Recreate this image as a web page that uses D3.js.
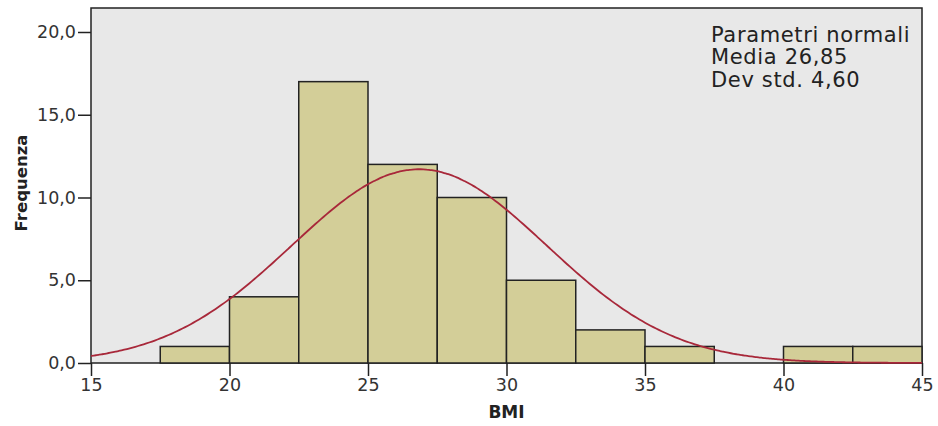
<!DOCTYPE html>
<html><head><meta charset="utf-8">
<script src="https://cdn.jsdelivr.net/npm/d3@7/dist/d3.min.js"></script>
<style>body{margin:0;background:#fff;}svg{display:block;font-family:"DejaVu Sans",sans-serif;}</style>
</head><body>
<svg id="c" width="938" height="426"></svg>
<script>
const binStarts = [17.5, 20, 22.5, 25, 27.5, 30, 32.5, 35, 37.5, 40, 42.5];
const binCounts = [1, 4, 17, 12, 10, 5, 2, 1, 0, 1, 1];
const binWidth = 2.5;
const xTicks = [15, 20, 25, 30, 35, 40, 45];
const yTicks = [0, 5, 10, 15, 20];
const mean = 26.85, sd = 4.60;
const annot = ["Parametri normali", "Media 26,85", "Dev std. 4,60"];

const svg = d3.select("#c");
const L = 91, R = 922, T = 8, B = 363;
const x = d3.scaleLinear().domain([15, 45]).range([L, R]);
const y = d3.scaleLinear().domain([0, 21.45]).range([B, T]);

svg.append("rect").attr("x", L).attr("y", T).attr("width", R - L).attr("height", B - T)
  .attr("fill", "#E8E8E8").attr("stroke", "#222").attr("stroke-width", 1.5);

const bins = binStarts.map((s, i) => ({s, c: binCounts[i]})).filter(d => d.c > 0);
svg.append("g").selectAll("rect").data(bins).join("rect")
  .attr("x", d => x(d.s)).attr("width", d => x(d.s + binWidth) - x(d.s))
  .attr("y", d => y(d.c)).attr("height", d => y(0) - y(d.c))
  .attr("fill", "#D3CE98").attr("stroke", "#222").attr("stroke-width", 1.5);

const N = d3.sum(binCounts);
const pts = d3.range(15, 45.001, 0.1).map(v => [v, N * binWidth * Math.exp(-0.5 * ((v - mean) / sd) ** 2) / (sd * Math.sqrt(2 * Math.PI))]);
svg.append("path").datum(pts)
  .attr("d", d3.line().x(d => x(d[0])).y(d => y(d[1])).curve(d3.curveBasis))
  .attr("fill", "none").attr("stroke", "#A8283A").attr("stroke-width", 1.8);

const fmt = v => d3.format(".1f")(v).replace(".", ",");
const ya = svg.append("g").attr("transform", `translate(${L},0)`)
  .call(d3.axisLeft(y).tickValues(yTicks).tickFormat(fmt).tickSize(13).tickPadding(2));
ya.select(".domain").remove();
ya.selectAll("line").attr("stroke", "#222").attr("stroke-width", 1.5);
ya.selectAll("text").attr("font-size", 17.5).attr("fill", "#333").attr("font-family", "DejaVu Sans");

const xa = svg.append("g").attr("transform", `translate(0,${B})`)
  .call(d3.axisBottom(x).tickValues(xTicks).tickFormat(d3.format("d")).tickSize(13).tickPadding(3));
xa.select(".domain").remove();
xa.selectAll("line").attr("stroke", "#222").attr("stroke-width", 1.5);
xa.selectAll("text").attr("font-size", 17.5).attr("fill", "#333").attr("font-family", "DejaVu Sans");

svg.append("text").attr("x", (L + R) / 2).attr("y", 418).attr("text-anchor", "middle")
  .attr("font-size", 17).attr("font-weight", "bold").attr("fill", "#222").text("BMI");
svg.append("text").attr("transform", `translate(27,${183}) rotate(-90)`).attr("text-anchor", "middle")
  .attr("font-size", 16.5).attr("font-weight", "bold").attr("fill", "#222").text("Frequenza");

svg.append("g").selectAll("text").data(annot).join("text")
  .attr("x", 711).attr("y", (d, i) => 42 + i * 22.3)
  .attr("font-size", 21).attr("letter-spacing", 0.65).attr("fill", "#222").text(d => d);
</script>
</body></html>
